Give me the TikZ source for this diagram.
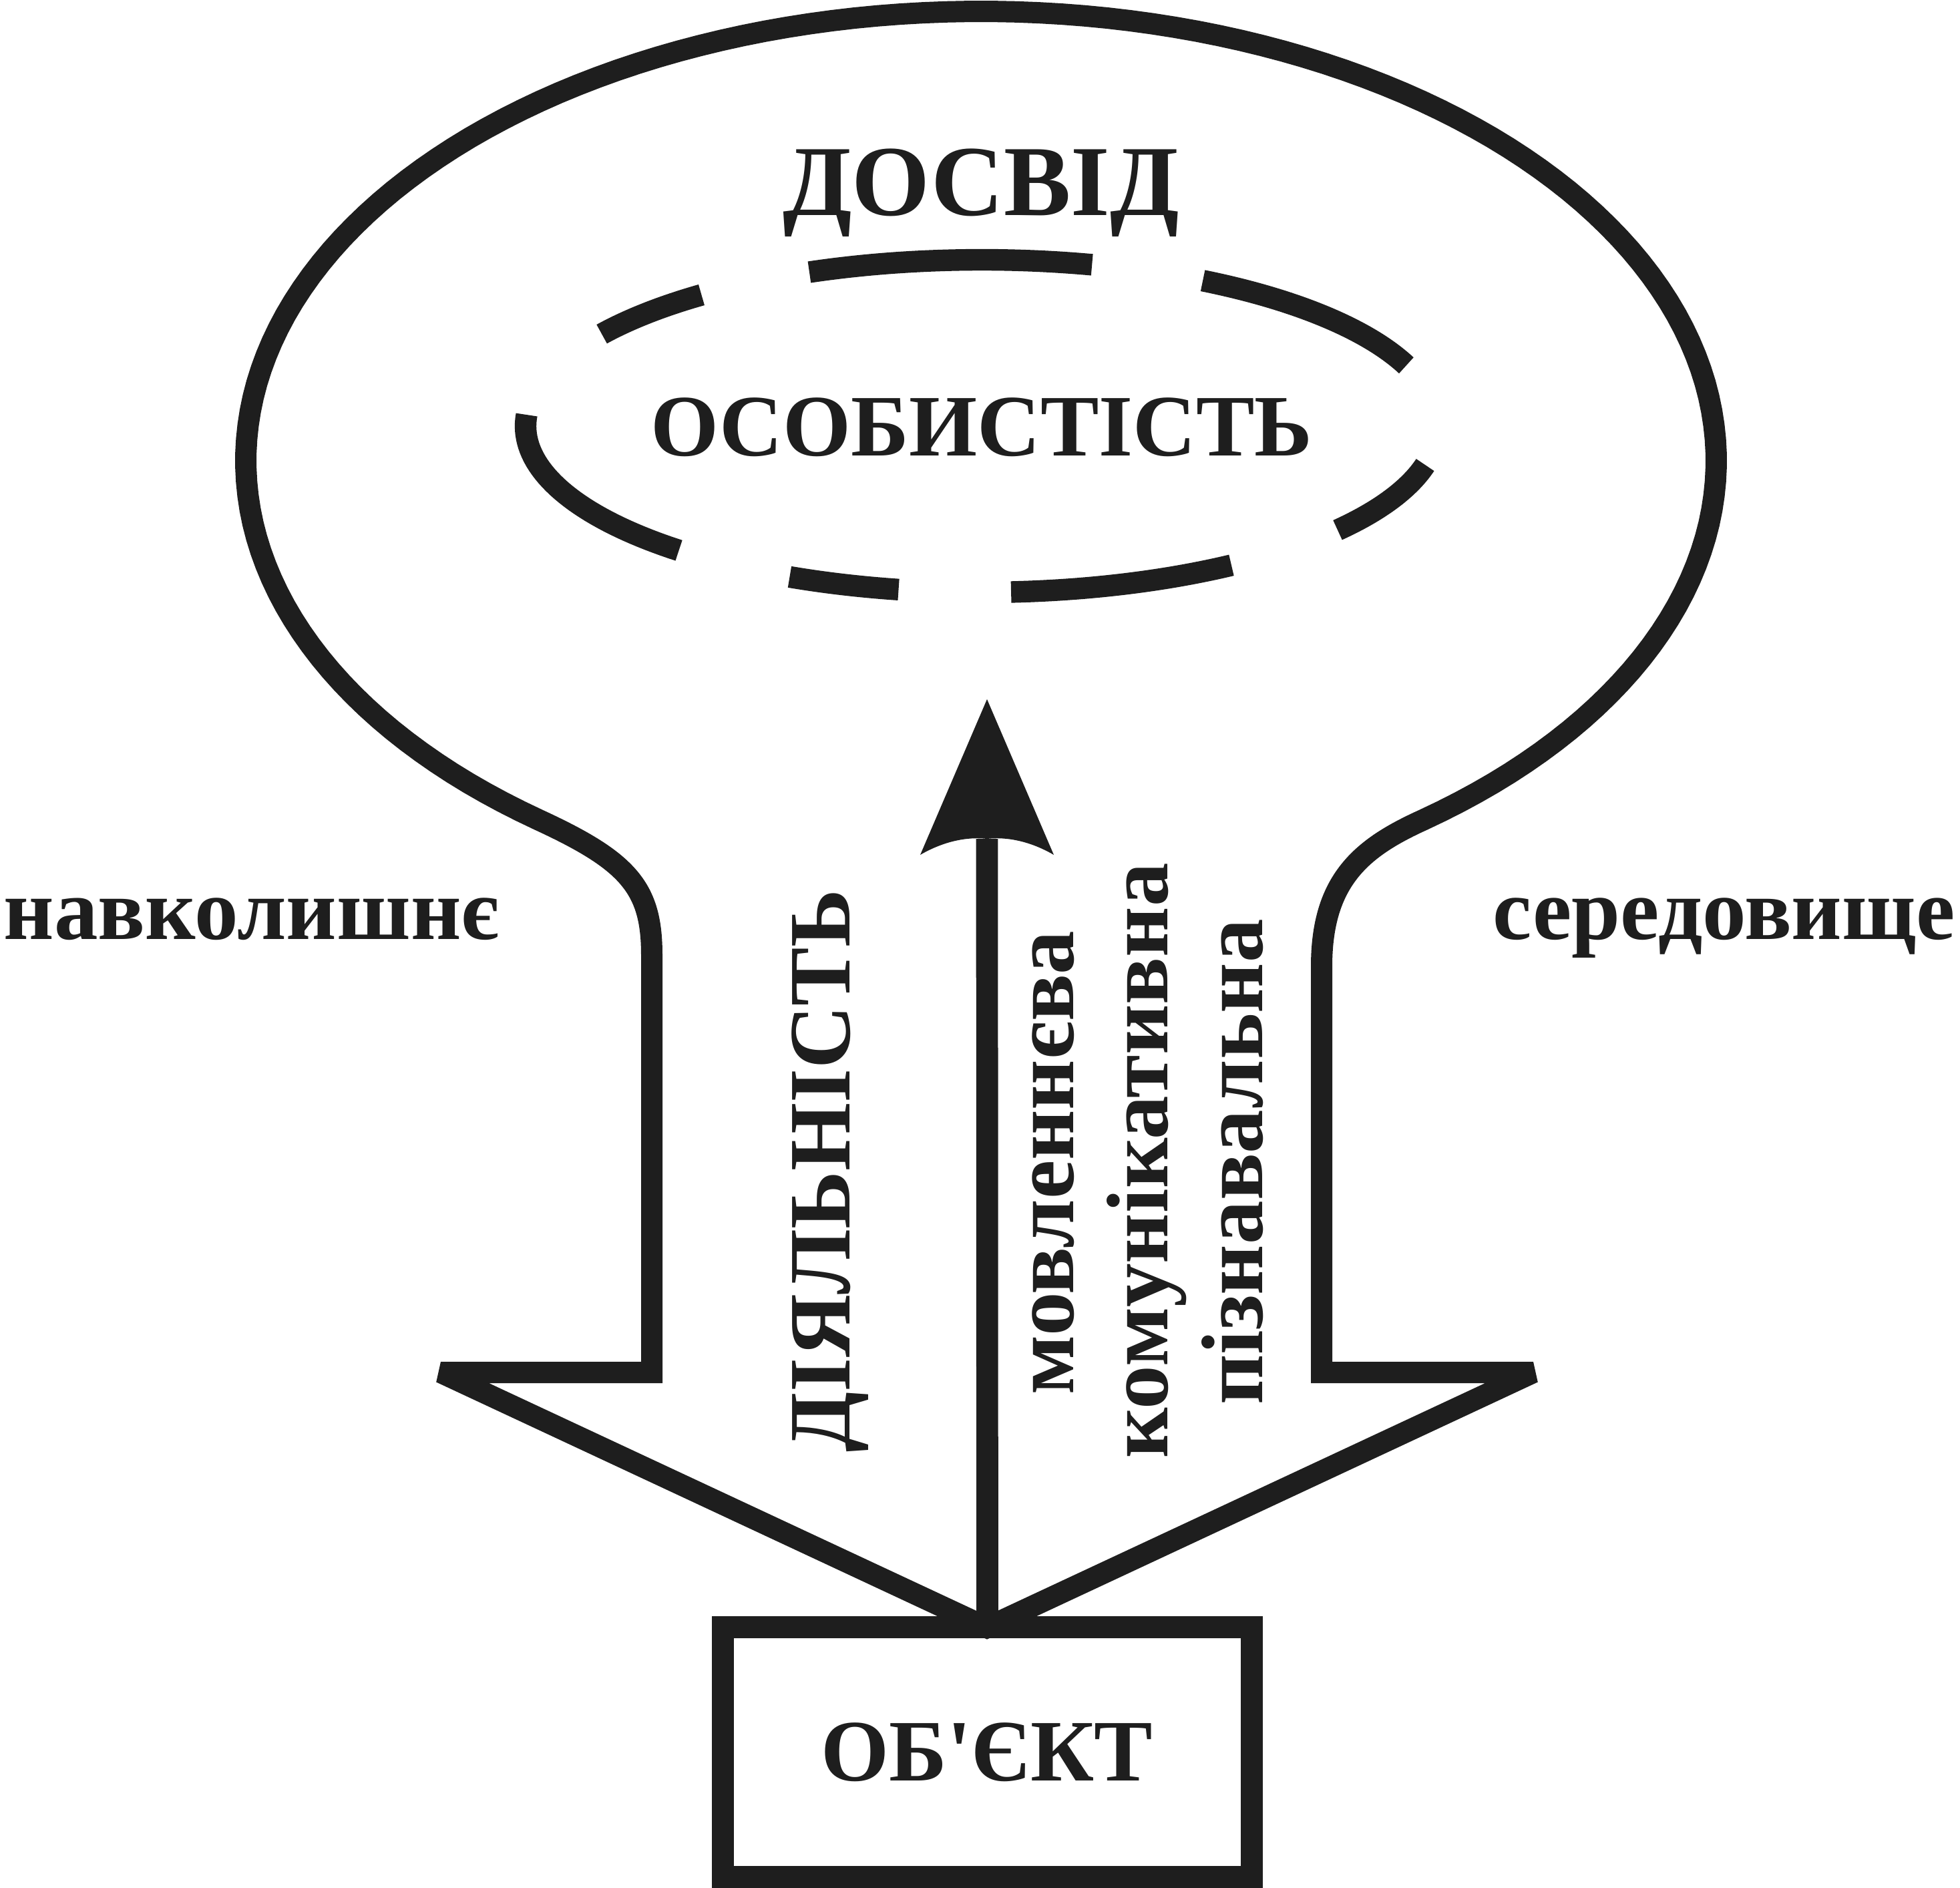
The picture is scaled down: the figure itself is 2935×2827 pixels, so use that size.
\documentclass[tikz,border=0pt]{standalone}
\usepackage{fontspec}
\setmainfont{Liberation Serif}
\definecolor{inkc}{RGB}{30,30,30}
\begin{document}
\begin{tikzpicture}[x=0.01cm, y=-0.01cm,
  ink/.style={draw=inkc, line width=9.1pt},
  dashseg/.style={draw=inkc, line width=9.2pt, line cap=butt},
  lbl/.style={text=inkc, inner sep=0pt, font=\bfseries\fontsize{37.3}{40}\selectfont},
  biglbl/.style={text=inkc, inner sep=0pt, font=\bfseries\fontsize{42.8}{46}\selectfont},
]
\useasboundingbox (0,0) rectangle (2935,2827);

% outer balloon / environment outline
\coordinate (ltip) at (660,2055);
\coordinate (rtip) at (2296,2055);
\coordinate (vee) at (1478,2437);
\draw[ink, line join=miter, miter limit=2] (ltip) -- (976,2055) -- (976,1430)
  .. controls (976,1330) and (942,1290) .. (806.4,1227.5)
  -- plot[domain=127:413, samples=160] ({1469+1101*cos(\x)},{690+673*sin(\x)})
  .. controls (2040,1269) and (1979,1317) .. (1979,1447)
  -- (1979,2055) -- (rtip) -- (vee) -- cycle;

% dashed inner ellipse
\foreach \a/\b in {13.5/38.7, 56.8/86.3, 100.5/114.9, 131.6/183.9, 213.6/232.1, 247.8/284.0, 299.0/338.6}{
  \draw[dashseg] plot[domain=\a:\b, samples=40] ({1470+683*cos(\x)},{638+249*sin(\x)});
}

% object box
\node[draw=inkc, line width=9.4pt, minimum width=7.91cm, minimum height=3.73cm, inner sep=0pt] (obj) at (1478.5,2623.5) {};
\node[lbl, anchor=base] (objtxt) at (1478,2666) {ОБ\textquotesingle ЄКТ};

% activity arrow
\coordinate (ahead) at (1478,1256);
\draw[ink, line width=9.3pt] (obj.north) -- (ahead);
\fill[inkc] (1478,1047) -- (1578,1280) .. controls (1540,1258) and (1505,1253) .. (ahead)
  .. controls (1451,1253) and (1416,1258) .. (1378,1280) -- cycle;

% texts
\node[biglbl, anchor=base] (dosvid) at (1469,322) {ДОСВІД};
\node[lbl, anchor=base] (osob) at (1470,682) {ОСОБИСТІСТЬ};
\node[lbl, anchor=base west] (navk) at (5,1406) {навколишнє};
\node[lbl, anchor=base west] (sered) at (2235,1406) {середовище};
\node[lbl, rotate=90, anchor=base] (diyal) at (1272,1753) {ДІЯЛЬНІСТЬ};
\node[lbl, rotate=90, anchor=base] (movl) at (1607,1741) {мовленнєва};
\node[lbl, rotate=90, anchor=base] (komun) at (1748,1738) {комунікативна};
\node[lbl, rotate=90, anchor=base] (pizn) at (1890,1740) {пізнавальна};
\end{tikzpicture}
\end{document}
